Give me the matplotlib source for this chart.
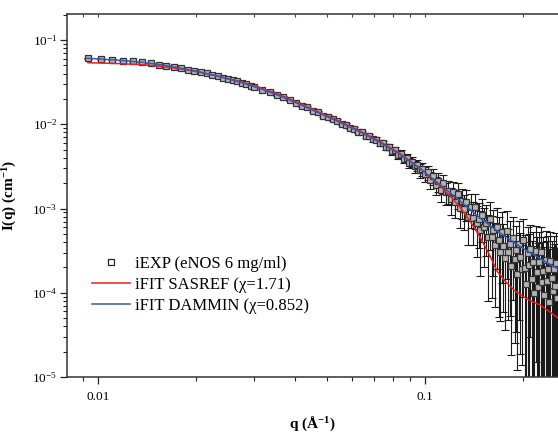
import math
import matplotlib
matplotlib.use('Agg')
import matplotlib.pyplot as plt
from matplotlib.lines import Line2D
from matplotlib.ticker import FixedLocator, FuncFormatter, LogLocator, NullFormatter

plt.rcParams['font.family'] = ['Liberation Serif', 'DejaVu Serif']
plt.rcParams['mathtext.fontset'] = 'custom'
plt.rcParams['mathtext.rm'] = 'Liberation Serif'
plt.rcParams['mathtext.it'] = 'Liberation Serif:italic'
plt.rcParams['mathtext.bf'] = 'Liberation Serif:bold'

# experimental curve (eNOS 6 mg/ml)
exp_q = [
    0.0093, 0.0102, 0.0110, 0.0119, 0.0128, 0.0136, 0.0145, 0.0154, 0.0162, 0.0171,
    0.0180, 0.0188, 0.0197, 0.0206, 0.0215, 0.0223, 0.0232, 0.0241, 0.0249, 0.0258,
    0.0267, 0.0275, 0.0284, 0.0293, 0.0301,
    0.0318, 0.0335, 0.0352, 0.0369, 0.0386, 0.0403, 0.0420, 0.0437, 0.0454, 0.0471,
    0.0488, 0.0505, 0.0522, 0.0539, 0.0556, 0.0573, 0.0590, 0.0607, 0.0624, 0.0641,
    0.0658, 0.0675, 0.0692, 0.0709, 0.0726, 0.0743, 0.0760, 0.0777, 0.0794, 0.0811,
    0.0828, 0.0845, 0.0862, 0.0879, 0.0896, 0.0913, 0.0930, 0.0947, 0.0964, 0.0981,
    0.0998,
    0.1018, 0.1038, 0.1058, 0.1078, 0.1098, 0.1118, 0.1138, 0.1158, 0.1178, 0.1198,
    0.1218, 0.1238, 0.1258, 0.1278, 0.1298, 0.1318, 0.1338, 0.1358, 0.1378, 0.1398,
    0.1418, 0.1438, 0.1458, 0.1478, 0.1498, 0.1518, 0.1538, 0.1558, 0.1578, 0.1598,
    0.1618, 0.1638, 0.1658, 0.1678, 0.1698, 0.1718, 0.1738, 0.1758, 0.1778, 0.1798,
    0.1818, 0.1838, 0.1858, 0.1878, 0.1898, 0.1918, 0.1938, 0.1958, 0.1978, 0.1998,
    0.2018, 0.2038, 0.2058, 0.2078, 0.2098, 0.2118, 0.2138, 0.2158, 0.2178, 0.2198,
    0.2218, 0.2238, 0.2258, 0.2278, 0.2298, 0.2318, 0.2338, 0.2358, 0.2378, 0.2398,
    0.2418, 0.2438, 0.2458, 0.2478, 0.2498, 0.2518, 0.2538,
]
exp_i = [
    0.0608, 0.0592, 0.0585, 0.0569, 0.0559, 0.0543, 0.0531, 0.0510, 0.0497, 0.0478,
    0.0463, 0.0444, 0.0431, 0.0414, 0.0401, 0.0384, 0.0373, 0.0357, 0.0347, 0.0332,
    0.0323, 0.0310, 0.0300, 0.0287, 0.0279,
    0.0258, 0.0243, 0.0223, 0.0210, 0.0192, 0.0181, 0.0166, 0.0159, 0.0145, 0.0139,
    0.0127, 0.0123, 0.0114, 0.0110, 0.0101, 0.00985, 0.00908, 0.00885, 0.00818, 0.00801,
    0.00734, 0.00726, 0.00660, 0.00655, 0.00596, 0.00595, 0.00538, 0.00538, 0.00483, 0.00489,
    0.00436, 0.00445, 0.00392, 0.00401, 0.00350, 0.00361, 0.00316, 0.00329, 0.00284, 0.00296,
    0.00258,
    0.00268, 0.00219, 0.00243, 0.00191, 0.00210, 0.00166, 0.00200, 0.00157, 0.00163, 0.00129,
    0.00158, 0.00121, 0.00150, 0.00101, 0.00123, 0.00100, 0.00119, 0.000788, 0.00104, 0.000779,
    0.00103, 0.000668, 0.000757, 0.000549, 0.000844, 0.000601, 0.000680, 0.000459, 0.000756, 0.000456,
    0.000558, 0.000368, 0.000602, 0.000422, 0.000306, 0.000520, 0.000359, 0.000256, 0.000544, 0.000307,
    0.000383, 0.000208, 0.000442, 0.000255, 0.000324, 0.000167, 0.000378, 0.000264, 0.000189, 0.000419,
    0.000197, 0.000128, 0.000297, 0.000214, 0.000330, 0.000146, 0.000230, 0.0000984, 0.000315, 0.000175,
    0.000118, 0.000232, 0.000302, 0.000136, 0.000182, 0.0000948, 0.000245, 0.000137, 0.000190, 0.0000770,
    0.000238, 0.000148, 0.000104, 0.000194, 0.000120, 0.000227, 0.0000869,
]
exp_err = [
    0.00082, 0.00080, 0.00078, 0.00077, 0.00075, 0.00074, 0.00072, 0.00070, 0.00069, 0.00067,
    0.00066, 0.00064, 0.00063, 0.00062, 0.00060, 0.00059, 0.00058, 0.00057, 0.00056, 0.00055,
    0.00054, 0.00053, 0.00052, 0.00051, 0.00050,
    0.00049, 0.00048, 0.00047, 0.00047, 0.00046, 0.00045, 0.00045, 0.00044, 0.00044, 0.00043,
    0.00043, 0.00042, 0.00042, 0.00042, 0.00041, 0.00041, 0.00041, 0.00040, 0.00041, 0.00040,
    0.00042, 0.00041, 0.00043, 0.00042, 0.00044, 0.00043, 0.00045, 0.00044, 0.00046, 0.00045,
    0.00047, 0.00046, 0.00048, 0.00047, 0.00049, 0.00048, 0.00050, 0.00049, 0.00051, 0.00050,
    0.00052,
    0.00052, 0.00049, 0.00054, 0.00048, 0.00051, 0.00047, 0.00053, 0.00046, 0.00050, 0.00045,
    0.00049, 0.00044, 0.00050, 0.00043, 0.00047, 0.00045, 0.00048, 0.00042, 0.00046, 0.00041,
    0.00046, 0.00040, 0.00042, 0.00039, 0.00044, 0.00040, 0.00041, 0.00038, 0.00043, 0.00037,
    0.00040, 0.00030, 0.00041, 0.00037, 0.00026, 0.00039, 0.00030, 0.00022, 0.00040, 0.00026,
    0.00033, 0.00019, 0.00036, 0.00023, 0.00029, 0.000155, 0.00033, 0.000245, 0.000175, 0.00033,
    0.00029, 0.00027, 0.00031, 0.00028, 0.00030, 0.00027, 0.00029, 0.00026, 0.00030, 0.00028,
    0.00027, 0.00029, 0.00030, 0.00026, 0.00028, 0.00025, 0.00029, 0.00027, 0.00028, 0.00025,
    0.00029, 0.00026, 0.00025, 0.00028, 0.00026, 0.00029, 0.00025,
]

# SASREF fit
sasref_q = [0.00932, 0.01014, 0.01168, 0.01344, 0.01547, 0.01781, 0.02051, 0.02360, 0.02717,
            0.03128, 0.03602, 0.04146, 0.04774, 0.05496, 0.06327, 0.07285, 0.08386, 0.09654,
            0.1111, 0.1193, 0.1279, 0.1373, 0.1473, 0.1581, 0.1661, 0.1756, 0.1884, 0.2051,
            0.2247, 0.2412, 0.2551]
sasref_i = [0.05377, 0.05333, 0.05248, 0.05105, 0.04887, 0.04550, 0.04147, 0.03686, 0.03217,
            0.02730, 0.02225, 0.01764, 0.01379, 0.01078, 0.00831, 0.00624, 0.00450, 0.00302,
            0.00185, 0.00141, 0.00104, 0.000710, 0.000459, 0.000273, 0.000181, 0.000138,
            0.000105, 0.0000843, 0.0000716, 0.0000591, 0.0000502]

# DAMMIN fit
dammin_q = [0.00926, 0.01014, 0.01168, 0.01344, 0.01547, 0.01781, 0.02051, 0.02360, 0.02717,
            0.03128, 0.03602, 0.04146, 0.04774, 0.05496, 0.06327, 0.07285, 0.08386, 0.09654,
            0.1111, 0.1279, 0.1473, 0.1696, 0.1952, 0.2247, 0.2551]
dammin_i = [0.06066, 0.05951, 0.05743, 0.05482, 0.05105, 0.04652, 0.04170, 0.03657, 0.03155,
            0.02656, 0.02164, 0.01715, 0.01341, 0.01049, 0.00809, 0.00607, 0.00437, 0.00298,
            0.00193, 0.00123, 0.000772, 0.000512, 0.000354, 0.000255, 0.000191]

labels = ['iEXP (eNOS 6 mg/ml)', 'iFIT SASREF (χ=1.71)', 'iFIT DAMMIN (χ=0.852)']
x_ticks = [0.01, 0.1]
x_tick_labels = ['0.01', '0.1']
y_ticks = [1e-5, 1e-4, 1e-3, 1e-2, 1e-1]

RED = '#f01c1c'
BLUE = '#2f5bbf'


def ylabel_fmt(v, pos):
    return r'$\mathregular{10^{%d}}$' % round(math.log10(v))


def xlabel_fmt(v, pos):
    for t, s in zip(x_ticks, x_tick_labels):
        if abs(v - t) < 1e-9:
            return s
    return ''


fig = plt.figure(figsize=(5.58, 4.36), dpi=100)
ax = fig.add_axes([67 / 558, 1 - 377 / 436, 491 / 558, 363 / 436])
ax.set_xscale('log')
ax.set_yscale('log')

ax.errorbar(exp_q, exp_i, yerr=exp_err, fmt='none', ecolor='#1a1a1a',
            elinewidth=0.8, capsize=3, capthick=0.8, zorder=2)
ax.plot(exp_q, exp_i, 's', ms=4, mfc='#b4b4b4', mec='#333333', mew=0.9, zorder=3)
ax.plot(sasref_q, sasref_i, color=RED, lw=1.1, zorder=4)
ax.plot(dammin_q, dammin_i, color=BLUE, lw=1.1, zorder=5)

ax.set_xlim(0.00804, 0.2551)
ax.set_ylim(1e-5, 0.2036)

ax.xaxis.set_major_locator(FixedLocator(x_ticks))
ax.xaxis.set_major_formatter(FuncFormatter(xlabel_fmt))
ax.xaxis.set_minor_locator(LogLocator(base=10, subs=range(2, 10)))
ax.xaxis.set_minor_formatter(NullFormatter())
ax.yaxis.set_major_locator(FixedLocator(y_ticks))
ax.yaxis.set_major_formatter(FuncFormatter(ylabel_fmt))
ax.yaxis.set_minor_locator(LogLocator(base=10, subs=range(2, 10)))
ax.yaxis.set_minor_formatter(NullFormatter())

ax.tick_params(which='major', direction='out', length=5, width=0.9, labelsize=9.5, pad=2, color='#222222')
ax.tick_params(which='minor', direction='out', length=3, width=0.8, color='#222222')
ax.tick_params(axis='x', which='major', pad=5)

ax.spines['right'].set_visible(False)
for side in ('left', 'top', 'bottom'):
    ax.spines[side].set_linewidth(1.1)
    ax.spines[side].set_color('#333333')

# small inward ticks on the top frame
top = ax.twiny()
top.set_xscale('log')
top.set_xlim(ax.get_xlim())
top.xaxis.set_major_locator(FixedLocator(x_ticks))
top.xaxis.set_minor_locator(LogLocator(base=10, subs=range(2, 10)))
top.tick_params(which='both', direction='in', length=2, width=0.8, color='#444444',
                labeltop=False, labelbottom=False)
for s in top.spines.values():
    s.set_visible(False)

ax.set_xlabel('q (Å$^{\\mathbf{-1}}$)', fontsize=11, fontweight='bold')
ax.set_ylabel('I(q) (cm$^{\\mathbf{-1}}$)', fontsize=11, fontweight='bold')
ax.xaxis.set_label_coords(0.5, -0.105)
ax.yaxis.set_label_coords(-0.098, 0.5)

handles = [
    Line2D([], [], marker='s', ls='none', ms=4, mfc='white', mec='#222222', mew=0.9),
    Line2D([], [], color=RED, lw=1.1),
    Line2D([], [], color=BLUE, lw=1.1),
]
ax.legend(handles, labels, loc='upper left', bbox_to_anchor=(0.051, 0.334),
          frameon=False, fontsize=12, handlelength=2.3, handletextpad=0.3,
          labelspacing=0.3, borderpad=0, borderaxespad=0)

fig.savefig('out.png', dpi=100)
